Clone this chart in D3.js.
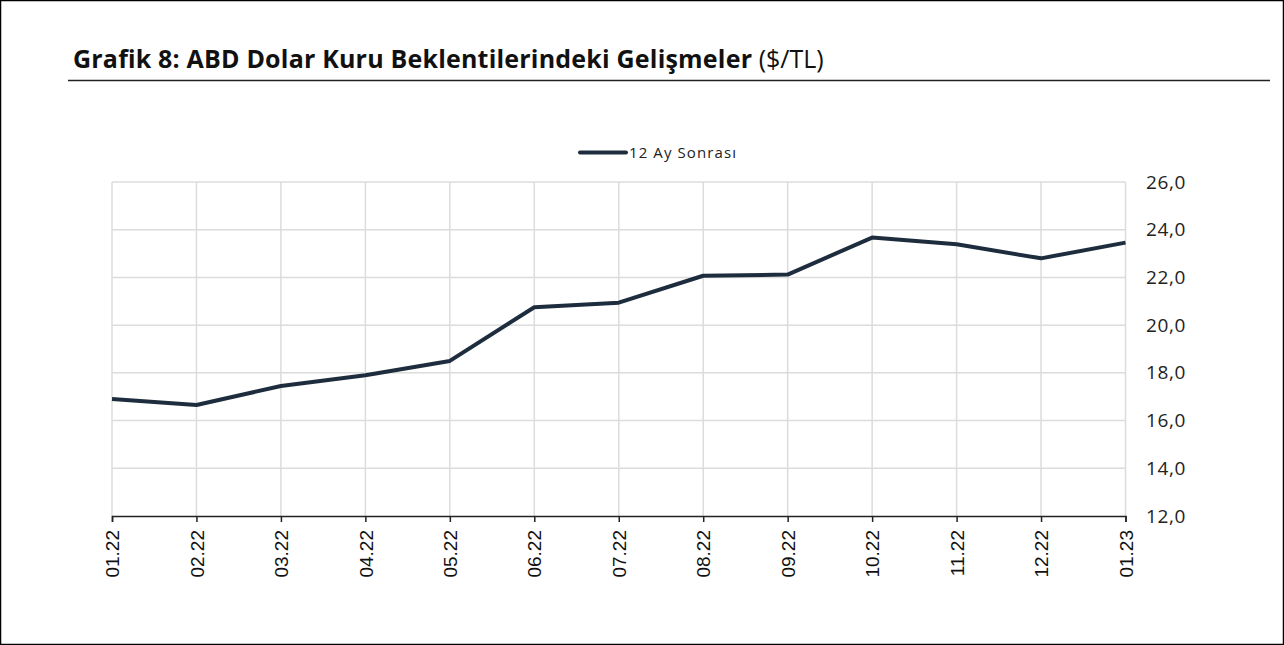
<!DOCTYPE html>
<html><head><meta charset="utf-8">
<script src="https://cdn.jsdelivr.net/npm/d3@7"></script>
<style>body{margin:0;background:#fff}svg{display:block}</style>
</head><body>
<svg id="c" width="1284" height="645"></svg>
<script>
const categories = ["01.22","02.22","03.22","04.22","05.22","06.22","07.22","08.22","09.22","10.22","11.22","12.22","01.23"];
const values = [16.9,16.65,17.45,17.9,18.5,20.75,20.94,22.07,22.12,23.67,23.39,22.8,23.46];
const yTicks = [12,14,16,18,20,22,24,26];
const seriesName = "12 Ay Sonrası";
const titleBold = "Grafik 8: ABD Dolar Kuru Beklentilerindeki Gelişmeler";
const titleRest = " ($/TL)";

const svg = d3.select("#c");
svg.append("rect").attr("x",0.5).attr("y",0.5).attr("width",1283).attr("height",644)
  .attr("fill","none").attr("stroke","#000").attr("stroke-width",1.5);

const t = svg.append("text").attr("x",73).attr("y",68)
  .attr("font-family","'Open Sans'").attr("font-size",25).attr("fill","#111");
t.append("tspan").attr("font-weight",700).attr("textLength",679).attr("lengthAdjust","spacing").text(titleBold);
t.append("tspan").attr("font-weight",400).text(titleRest);
svg.append("line").attr("x1",68).attr("x2",1270).attr("y1",80.5).attr("y2",80.5)
  .attr("stroke","#222").attr("stroke-width",1.5);

const x = d3.scalePoint().domain(categories).range([112,1125.5]);
const y = d3.scaleLinear().domain([12,26]).range([516,182]);

// grid
svg.append("g").selectAll("line").data(yTicks.filter(d=>d>12)).join("line")
  .attr("x1",112).attr("x2",1125.5).attr("y1",d=>y(d)).attr("y2",d=>y(d))
  .attr("stroke","#dcdcdc").attr("stroke-width",1.5);
svg.append("g").selectAll("line").data(categories).join("line")
  .attr("x1",d=>x(d)).attr("x2",d=>x(d)).attr("y1",182).attr("y2",516)
  .attr("stroke","#dcdcdc").attr("stroke-width",1.5);

// x axis
const xa = svg.append("g").attr("transform","translate(0,516)")
  .call(d3.axisBottom(x).tickSizeOuter(0).tickSize(6).tickPadding(0));
xa.select(".domain").attr("stroke","#222").attr("stroke-width",1.5);
xa.selectAll(".tick line").attr("stroke","#222").attr("stroke-width",1.5);
xa.selectAll(".tick text").attr("font-family","'Liberation Sans', Arial").attr("font-size",19)
  .attr("fill","#111").attr("text-anchor","end").attr("dy","0.35em")
  .attr("transform","translate(0,14) rotate(-90)").attr("x",0).attr("y",0);

// y axis (right, no line)
const ya = svg.append("g").attr("transform","translate(1146,0)")
  .call(d3.axisRight(y).tickValues(yTicks).tickSize(0).tickPadding(0)
    .tickFormat(d=>d3.format(".1f")(d).replace(".",",")));
ya.select(".domain").remove();
ya.selectAll(".tick text").attr("font-family","'Open Sans'").attr("font-size",19)
  .attr("letter-spacing",0.6).attr("fill","#222");

// line
svg.append("path").datum(values)
  .attr("d", d3.line().x((d,i)=>x(categories[i])).y(d=>y(d)))
  .attr("fill","none").attr("stroke","#1d2d3e").attr("stroke-width",4).attr("stroke-linejoin","round");

// legend
svg.append("line").attr("x1",580).attr("x2",626).attr("y1",152.5).attr("y2",152.5)
  .attr("stroke","#1d2d3e").attr("stroke-width",4).attr("stroke-linecap","round");
svg.append("text").attr("x",629).attr("y",157.5).attr("font-family","'Open Sans'").attr("font-size",15)
  .attr("textLength",107).attr("lengthAdjust","spacing")
  .attr("fill","#222").text(seriesName);
</script>
</body></html>
